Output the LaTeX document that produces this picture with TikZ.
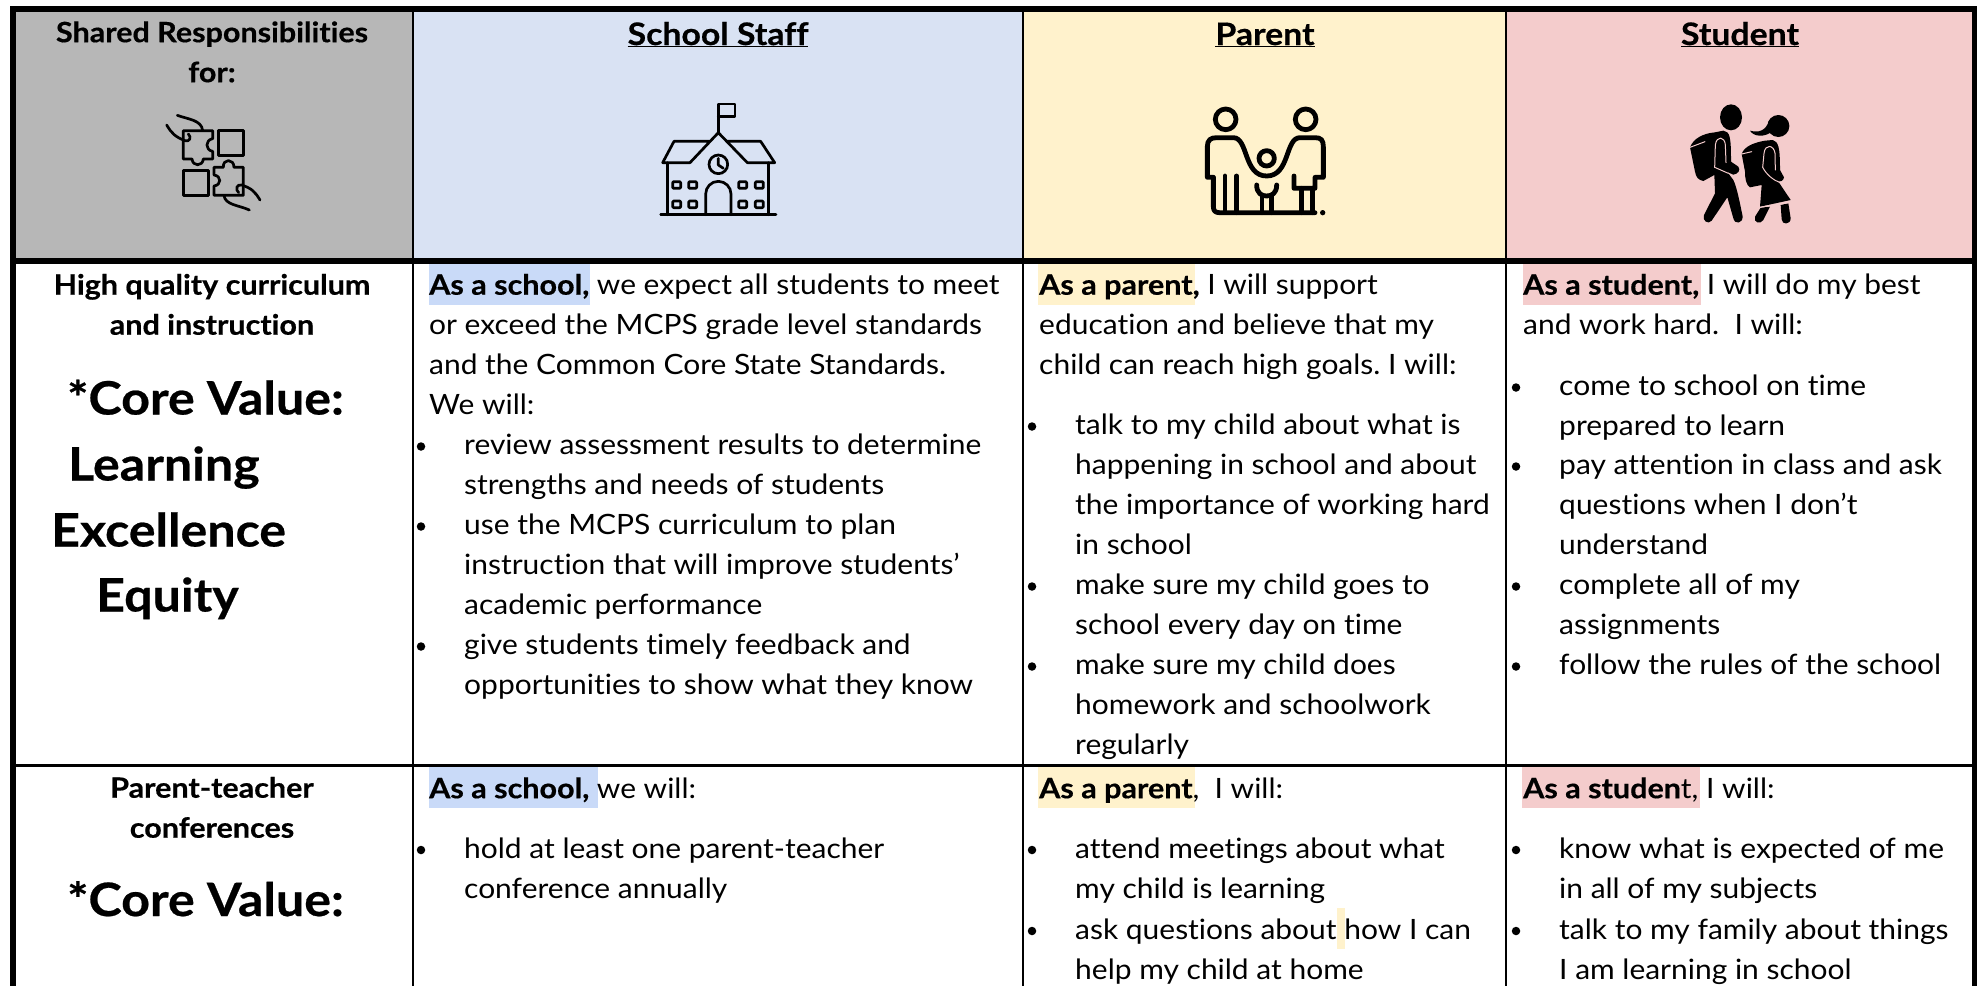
\documentclass[tikz,border=0pt]{standalone}
\usepackage{fontspec}
\setmainfont[FakeStretch=1.07,Ligatures=NoCommon,BoldFeatures={FakeStretch=1.09,FakeBold=0.5}]{Lato}
\frenchspacing
\definecolor{hgrey}{HTML}{B7B7B7}
\definecolor{hblue}{HTML}{D9E2F3}
\definecolor{hyellow}{HTML}{FFF2CC}
\definecolor{hpink}{HTML}{F4CCCC}
\definecolor{mblue}{HTML}{C9DAF8}
\newcommand{\st}{\rule[-12pt]{0pt}{40pt}}
% block of left aligned lines: name, x, first baseline, lines
\newcommand{\tb}[4]{\node[txt] (#1) at (#2,#3-28) {\st #4};}
% bullet item: name, bullet x, text x, first baseline, lines
\newcommand{\itm}[5]{\node[dotm] (#1d) at (#2,#4-8) {};\node[txt] (#1) at (#3,#4-28) {\st #5};}
\newcommand{\ctr}[4]{\node[ctxt] (#1) at (#2,#3-28) {\st #4};}
\tikzset{
 txt/.style={anchor=north west,align=left,inner sep=0pt,font=\fontsize{28}{40}\selectfont\frenchspacing},
 ctxt/.style={anchor=north,align=center,inner sep=0pt,font=\fontsize{28}{40}\selectfont\bfseries},
 htxt/.style={anchor=base,inner sep=0pt,font=\fontsize{31}{40}\selectfont\bfseries},
 cvtxt/.style={anchor=base west,inner sep=0pt,font=\fontsize{46}{60}\selectfont\bfseries},
 dotm/.style={circle,fill=black,inner sep=0pt,minimum size=8.5pt},
 ico/.style={line width=2.7pt,line cap=round,line join=round},
 icp/.style={line width=4.8pt,line cap=round,line join=round},
 pinkl/.style={draw=hpink,line width=1pt,line cap=round}
}
\begin{document}
\begin{tikzpicture}[x=1pt,y=-1pt]
\useasboundingbox (0,0) rectangle (1977,986);
\fill[white] (0,0) rectangle (1977,986);
% header fills
\fill[hgrey] (16,12) rectangle (413,258);
\fill[hblue] (413,12) rectangle (1023,258);
\fill[hyellow] (1023,12) rectangle (1506,258);
\fill[hpink] (1506,12) rectangle (1972,258);
% highlights
\fill[mblue] (429,264) rectangle (590,305);
\fill[mblue] (429,767) rectangle (598,808);
\fill[hyellow] (1038,264) rectangle (1195,305);
\fill[hyellow] (1038,767) rectangle (1195,808);
\fill[hpink] (1523,264) rectangle (1701,305);
\fill[hpink] (1522,767) rectangle (1700,808);
\fill[hyellow] (1337,908) rectangle (1345,949);
% grid
\fill[black] (10,6) rectangle (1977,12);
\fill[black] (10,6) rectangle (16,986);
\fill[black] (1972,6) rectangle (1977,986);
\fill[black] (10,258) rectangle (1977,264);
\fill[black] (10,764) rectangle (1977,766.8);
\foreach \x in {413,1023,1506}{\fill[black] (\x-1,12) rectangle (\x+1,986);}
% header texts
\ctr{h0}{212}{42}{Shared Responsibilities\\for:}
\node[htxt] (h1) at (718,45) {\underline{School Staff}};
\node[htxt] (h2) at (1265,45) {\underline{Parent}};
\node[htxt] (h3) at (1740,45) {\underline{Student}};
% puzzle icon
\begin{scope}[shift={(120,90)},scale=1/3,ico]
\draw (296,122) rectangle (370,196);
\draw (190,242) rectangle (266,316);
\draw (190,122) -- (278,122) -- (278,146) .. controls (255,150) and (255,180) .. (278,184) -- (278,207) -- (250,207) .. controls (248,230) and (218,230) .. (216,207) -- (190,207) -- cycle;
\draw (282,232) -- (310,232) .. controls (308,205) and (342,205) .. (342,232) -- (370,232) -- (370,316) -- (282,316) -- (282,288) .. controls (305,285) and (305,258) .. (282,255) -- cycle;
\draw (172,76) .. controls (205,88) and (245,90) .. (248,122);
\draw (140,105) .. controls (155,130) and (165,140) .. (195,152) .. controls (210,156) and (215,142) .. (205,132);
\draw (420,330) .. controls (405,305) and (395,295) .. (365,285) .. controls (350,282) and (345,298) .. (356,308);
\draw (388,360) .. controls (355,345) and (315,345) .. (312,316);
\end{scope}
% school icon
\begin{scope}[shift={(640,90)},scale=1/3,ico]
\draw (235,125) -- (235,42) -- (285,42) -- (285,80) -- (235,80);
\draw (62,374) -- (408,374);
\draw (82,218) -- (82,374);
\draw (386,218) -- (386,374);
\draw (208,154) -- (102,154) -- (68,218) -- (150,218) -- (235,128) -- (322,218) -- (404,218) -- (362,154) -- (262,154);
\draw (235,223) circle[radius=28];
\draw (235,205) -- (235,225) -- (250,235);
\draw (197,374) -- (197,312) arc[start angle=180,end angle=360,radius=38] -- (273,374);
\foreach \xx in {110,158,308,358}{\foreach \yy in {285,343}{
 \draw[rounded corners=1pt] (\xx-12,\yy-10) rectangle (\xx+12,\yy+10);}}
\end{scope}
% family icon
\begin{scope}[shift={(1190,90)},scale=1/3,icp]
\draw (107,88) circle[radius=31];
\draw (347,88) circle[radius=31];
\draw (230,205) circle[radius=23];
\draw (105,258) -- (105,365);
\draw (140,258) -- (140,368);
\draw (70,262) -- (52,262) -- (52,170) .. controls (52,150) and (62,143) .. (80,143) -- (130,143) .. controls (175,143) and (160,258) .. (230,258) .. controls (300,258) and (285,143) .. (330,143) -- (375,143) .. controls (393,143) and (400,150) .. (400,170) -- (400,262) -- (375,262) -- (375,295) -- (312,295) -- (312,258);
\draw (70,262) -- (70,350) .. controls (70,362) and (76,368) .. (88,368) -- (375,368);
\draw (335,295) -- (335,368);
\draw (368,295) -- (368,368);
\draw (200,285) .. controls (200,310) and (215,318) .. (230,318) .. controls (245,318) and (260,310) .. (260,285);
\draw (216,318) -- (216,368);
\draw (244,318) -- (244,368);
\fill (398,368) circle[radius=8];
\end{scope}
% students icon
\begin{scope}[shift={(1670,90)},scale=1/3]
\fill (183,82) ellipse[x radius=33,y radius=39];
\fill (60,172) .. controls (70,145) and (100,130) .. (135,127) -- (160,122) .. controls (180,125) and (183,140) .. (183,215) -- (205,230) .. controls (212,240) and (205,252) .. (190,254) -- (172,246) -- (190,270) .. controls (200,290) and (210,340) .. (218,380) .. controls (218,400) and (195,405) .. (190,385) -- (172,322) -- (125,392) .. controls (115,405) and (95,392) .. (102,375) -- (135,310) -- (133,255) -- (100,273) .. controls (85,270) and (78,262) .. (75,245) -- cycle;
\draw[pinkl] (60,172) -- (105,155);
\draw[pinkl] (134,232) -- (136,165) .. controls (140,135) and (165,140) .. (166,165) -- (168,218);
\draw[pinkl] (134,232) -- (175,250);
\fill (325,108) circle[radius=33];
\fill (298,92) .. controls (285,125) and (265,128) .. (240,122) .. controls (250,140) and (285,145) .. (312,120) -- cycle;
\fill (215,192) .. controls (222,170) and (250,158) .. (285,152) -- (308,150) .. controls (325,155) and (330,170) .. (330,240) -- (342,262) .. controls (340,272) and (332,276) .. (325,275) -- (362,330) -- (270,350) -- (275,285) -- (240,292) .. controls (228,285) and (225,265) .. (225,245) -- cycle;
\fill (272,353) -- (300,350) -- (280,390) .. controls (270,405) and (250,398) .. (255,380) -- cycle;
\fill (332,345) -- (355,340) -- (362,385) .. controls (362,405) and (335,405) .. (335,388) -- cycle;
\draw[pinkl] (215,192) -- (245,185);
\draw[pinkl] (278,232) -- (282,190) .. controls (285,160) and (312,165) .. (315,190) -- (316,240);
\draw[pinkl] (278,232) .. controls (290,255) and (310,270) .. (330,278);
\draw[pinkl] (270,352) -- (355,338);
\end{scope}
% left column
\ctr{a0}{212}{294.5}{High quality curriculum\\and instruction}
\node[cvtxt] (cv1) at (67,414.5) {*Core Value:};
\node[cvtxt] (cl) at (68,480.5) {Learning};
\node[cvtxt] (ce) at (51,546.5) {Excellence};
\node[cvtxt] (cq) at (96,611.5) {Equity};
\ctr{a1}{212}{797.5}{Parent-teacher\\conferences}
\node[cvtxt] (cv2) at (67,916) {*Core Value:};
% row 1 school
\tb{s0}{429}{294.5}{\textbf{As a school,} we expect all students to meet\\or exceed the MCPS grade level standards\\and the Common Core State Standards.\\We will:}
\itm{s1}{421}{464}{454.5}{review assessment results to determine\\strengths and needs of students}
\itm{s2}{421}{464}{534.5}{use the MCPS curriculum to plan\\instruction that will improve students’\\academic performance}
\itm{s3}{421}{464}{654.5}{give students timely feedback and\\opportunities to show what they know}
% row 1 parent
\tb{p0}{1039}{294.5}{\textbf{As a parent,} I will support\\education and believe that my\\child can reach high goals. I will:}
\itm{p1}{1032}{1075}{434.5}{talk to my child about what is\\happening in school and about\\the importance of working hard\\in school}
\itm{p2}{1032}{1075}{594.5}{make sure my child goes to\\school every day on time}
\itm{p3}{1032}{1075}{674.5}{make sure my child does\\homework and schoolwork\\regularly}
% row 1 student
\tb{t0}{1523}{294.5}{\textbf{As a student,} I will do my best\\and work hard.\ \ I will:}
\itm{t1}{1516}{1559}{395.5}{come to school on time\\prepared to learn}
\itm{t2}{1516}{1559}{474.5}{pay attention in class and ask\\questions when I don’t\\understand}
\itm{t3}{1516}{1559}{594.5}{complete all of my\\assignments}
\itm{t4}{1516}{1559}{674.5}{follow the rules of the school}
% row 2
\tb{s4}{429}{798}{\textbf{As a school,} we will:}
\itm{s5}{421}{464}{858}{hold at least one parent-teacher\\conference annually}
\tb{p4}{1039}{798}{\textbf{As a parent},\ \ I will:}
\itm{p5}{1032}{1075}{858}{attend meetings about what\\my child is learning}
\itm{p6}{1032}{1075}{939}{ask questions about how I can\\help my child at home}
\tb{t5}{1523}{798}{\textbf{As a studen}t, I will:}
\itm{t6}{1516}{1559}{858}{know what is expected of me\\in all of my subjects}
\itm{t7}{1516}{1559}{939}{talk to my family about things\\I am learning in school}
\end{tikzpicture}
\end{document}
